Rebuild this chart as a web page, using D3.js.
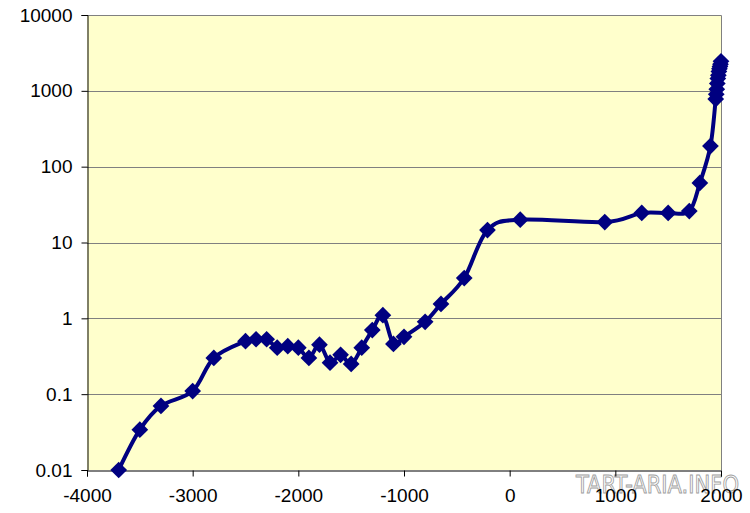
<!DOCTYPE html>
<html><head><meta charset="utf-8">
<script src="https://cdn.jsdelivr.net/npm/d3@7/dist/d3.min.js"></script>
<style>html,body{margin:0;padding:0;background:#fff;}svg{display:block;}</style>
</head><body><svg id="chart" width="750" height="513"></svg>
<script>
const years = [-3700,-3500,-3300,-3000,-2800,-2500,-2400,-2300,-2200,-2100,-2000,-1900,-1800,-1700,-1600,-1500,-1400,-1300,-1200,-1100,-1000,-800,-650,-430,-210,100,900,1250,1500,1700,1800,1900,1950,1955,1960,1965,1970,1975,1980,1985,1990,1995,2000];
const values = [0.01,0.034,0.07,0.11,0.3,0.5,0.53,0.53,0.41,0.43,0.41,0.3,0.45,0.26,0.33,0.25,0.41,0.7,1.1,0.46,0.57,0.9,1.55,3.4,14.6,20,18.6,24.5,24.5,26,61,187,780,900,1050,1250,1450,1600,1800,1950,2100,2250,2450];
const xTicks = [-4000,-3000,-2000,-1000,0,1000,2000];
const yTicks = [0.01,0.1,1,10,100,1000,10000];
const yLabels = ["0.01","0.1","1","10","100","1000","10000"];
const watermark = "TART-ARIA.INFO";

const svg = d3.select("#chart");
const L = 87, R = 721, T = 15, B = 470;
const x = d3.scaleLinear().domain([-4000, 2000]).range([L, R]);
const y = d3.scaleLog().domain([0.01, 10000]).range([B, T]);
const font = "'Liberation Sans', Arial, sans-serif";

// plot background
svg.append("rect").attr("x", L).attr("y", T).attr("width", R - L).attr("height", B - T)
  .attr("fill", "#FFFFCC");

// gridlines
svg.append("g").selectAll("line").data(yTicks.filter(v => v > 0.01 && v < 10000)).join("line")
  .attr("x1", L).attr("x2", R).attr("y1", d => Math.round(y(d)) + 0.5).attr("y2", d => Math.round(y(d)) + 0.5)
  .attr("stroke", "#808080").attr("stroke-width", 1);

// border (top, right)
svg.append("path").attr("d", `M${L},${T + 0.5}H${R + 0.5}V${B}`)
  .attr("fill", "none").attr("stroke", "#808080").attr("stroke-width", 1);

// watermark
svg.append("text").attr("x", 576).attr("y", 493).attr("font-family", "'DejaVu Sans Condensed', 'Liberation Sans Narrow', sans-serif")
  .attr("font-size", 25).attr("textLength", 163).attr("lengthAdjust", "spacingAndGlyphs")
  .attr("fill", "#ffffff").attr("stroke", "#a0a0a0").attr("stroke-width", 0.9).text(watermark);

// axes
const yAxis = d3.axisLeft(y).tickValues(yTicks).tickSize(6).tickPadding(9)
  .tickFormat((d, i) => yLabels[i]);
const gy = svg.append("g").attr("transform", `translate(${L + 0.5},0)`).call(yAxis);
gy.select(".domain").attr("stroke", "#000");
gy.selectAll(".tick line").attr("stroke", "#000");
gy.selectAll(".tick text").attr("font-family", font).attr("font-size", 19).attr("fill", "#000");

const xAxis = d3.axisBottom(x).tickValues(xTicks).tickSize(6).tickPadding(12).tickFormat(d3.format("d"));
const gx = svg.append("g").attr("transform", `translate(0,${B + 0.5})`).call(xAxis);
gx.select(".domain").attr("stroke", "#000");
gx.selectAll(".tick line").attr("stroke", "#000");
gx.selectAll(".tick text").attr("font-family", font).attr("font-size", 19).attr("fill", "#000")
  .text(d => d < 0 ? "-" + Math.abs(d) : String(d));

// data
const data = years.map((yr, i) => ({yr, v: values[i]}));
const line = d3.line().x(d => x(d.yr)).y(d => y(d.v)).curve(d3.curveCardinal.tension(0));
svg.append("path").datum(data).attr("d", line)
  .attr("fill", "none").attr("stroke", "#000080").attr("stroke-width", 4).attr("stroke-linejoin", "round");

const sym = d3.symbol().type(d3.symbolSquare).size(140);
svg.append("g").selectAll("path").data(data).join("path")
  .attr("d", sym)
  .attr("transform", d => `translate(${x(d.yr)},${y(d.v)}) rotate(45)`)
  .attr("fill", "#000080");
</script></body></html>
